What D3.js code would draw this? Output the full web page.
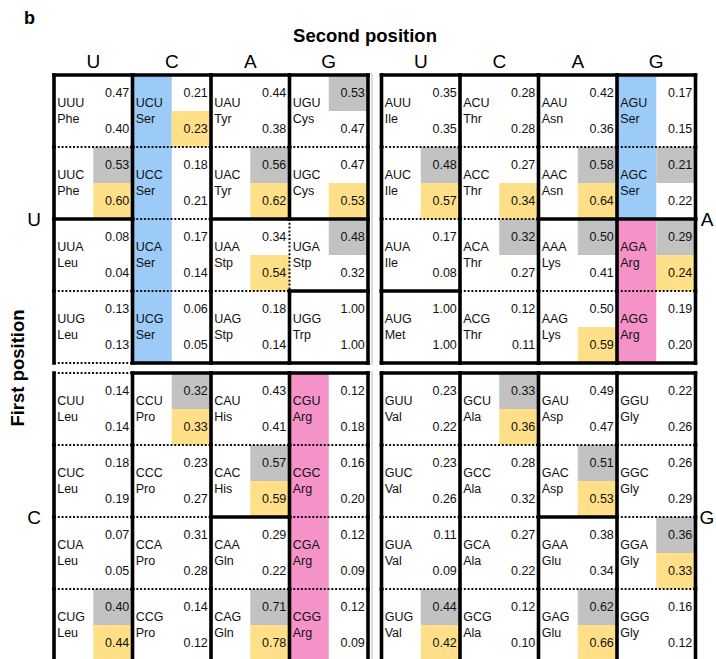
<!DOCTYPE html>
<html>
<head>
<meta charset="utf-8">
<script src="https://cdn.jsdelivr.net/npm/d3@7"></script>
<style>
  html, body { margin: 0; padding: 0; background: #fff; }
  svg { display: block; font-family: "Liberation Sans", Arial, Helvetica, sans-serif; }
</style>
</head>
<body>
<svg id="chart" width="716" height="659"></svg>
<script>
// Nucleotide order used for the first, second and third codon positions
const firstBases = ["U", "C", "A", "G"];
const secondBases = ["U", "C", "A", "G"];
const thirdBases = ["U", "C", "A", "G"];

// Amino acid per codon, ordered first base → second base → third base
const aminoAcids = [
  "Phe","Phe","Leu","Leu", "Ser","Ser","Ser","Ser", "Tyr","Tyr","Stp","Stp", "Cys","Cys","Stp","Trp",
  "Leu","Leu","Leu","Leu", "Pro","Pro","Pro","Pro", "His","His","Gln","Gln", "Arg","Arg","Arg","Arg",
  "Ile","Ile","Ile","Met", "Thr","Thr","Thr","Thr", "Asn","Asn","Lys","Lys", "Ser","Ser","Arg","Arg",
  "Val","Val","Val","Val", "Ala","Ala","Ala","Ala", "Asp","Asp","Glu","Glu", "Gly","Gly","Gly","Gly"
];

// Relative codon usage, upper value in each cell
const topValues = [
  0.47,0.53,0.08,0.13, 0.21,0.18,0.17,0.06, 0.44,0.56,0.34,0.18, 0.53,0.47,0.48,1.00,
  0.14,0.18,0.07,0.40, 0.32,0.23,0.31,0.14, 0.43,0.57,0.29,0.71, 0.12,0.16,0.12,0.12,
  0.35,0.48,0.17,1.00, 0.28,0.27,0.32,0.12, 0.42,0.58,0.50,0.50, 0.17,0.21,0.29,0.19,
  0.23,0.23,0.11,0.44, 0.33,0.28,0.27,0.12, 0.49,0.51,0.38,0.62, 0.22,0.26,0.36,0.16
];

// Relative codon usage, lower value in each cell
const bottomValues = [
  0.40,0.60,0.04,0.13, 0.23,0.21,0.14,0.05, 0.38,0.62,0.54,0.14, 0.47,0.53,0.32,1.00,
  0.14,0.19,0.05,0.44, 0.33,0.27,0.28,0.12, 0.41,0.59,0.22,0.78, 0.18,0.20,0.09,0.09,
  0.35,0.57,0.08,1.00, 0.28,0.34,0.27,0.11, 0.36,0.64,0.41,0.59, 0.15,0.22,0.24,0.20,
  0.22,0.26,0.09,0.42, 0.36,0.32,0.22,0.10, 0.47,0.53,0.34,0.66, 0.26,0.29,0.33,0.12
];

// Preferred codon of each amino acid, upper and lower value
const topPreferred = ["UUC","UAC","UGU","UGA","CUG","CCU","CAC","CAG","AUC","ACA","AAC","AAA","AGC","AGA","GUG","GCU","GAC","GAG","GGA"];
const bottomPreferred = ["UUC","UCU","UAC","UAA","UGC","CUG","CCU","CAC","CAG","AUC","ACC","AAC","AAG","AGA","GUG","GCU","GAC","GAG","GGA"];

// Six-codon amino acids split across two boxes
const shadedAminoAcids = ["Ser", "Arg"];
const shadeColors = ["#9ccbf7", "#f593c9"];

const svg = d3.select("#chart");

// Each first base owns one half-block
const blockX = d3.scaleOrdinal().domain(firstBases).range([54, 54, 381.5, 381.5]);
const blockY = d3.scaleOrdinal().domain(firstBases).range([75, 373, 75, 373]);
const colScale = d3.scaleBand().domain(secondBases).range([0, 314]);
const rowScale = d3.scaleBand().domain(thirdBases).range([0, 288]);
const shadeScale = d3.scaleOrdinal().domain(shadedAminoAcids).range(shadeColors);

const cells = [];
firstBases.forEach((f, fi) => secondBases.forEach((s, si) => thirdBases.forEach((t, ti) => {
  const i = fi * 16 + si * 4 + ti;
  const codon = f + s + t;
  const x0 = blockX(f) + colScale(s);
  const y0 = blockY(f) + rowScale(t);
  cells.push({
    f, s, t, fi, si, ti, codon,
    aa: aminoAcids[i], top: topValues[i], bottom: bottomValues[i],
    x0, y0, w: colScale.bandwidth(), h: rowScale.bandwidth()
  });
})));
const byCodon = new Map(cells.map(c => [c.codon, c]));

// Panel letter and axis titles
svg.append("text").attr("x", 24).attr("y", 24)
  .attr("font-size", 18).attr("font-weight", "bold").text("b");
svg.append("text").attr("x", 365).attr("y", 42).attr("text-anchor", "middle")
  .attr("font-size", 18.5).attr("font-weight", "bold").text("Second position");
svg.append("text")
  .attr("transform", "translate(24,368) rotate(-90)")
  .attr("text-anchor", "middle")
  .attr("font-size", 18.5).attr("font-weight", "bold").text("First position");

// Second-position letters above each block
["U", "A"].forEach(f => {
  secondBases.forEach(s => {
    svg.append("text")
      .attr("x", blockX(f) + colScale(s) + colScale.bandwidth() / 2)
      .attr("y", 68)
      .attr("text-anchor", "middle")
      .attr("font-size", 19).text(s);
  });
});

// First-position letters beside each half-block
firstBases.forEach(f => {
  const left = f === "U" || f === "C";
  svg.append("text")
    .attr("x", left ? 34 : 707)
    .attr("y", blockY(f) + 144 + 7)
    .attr("text-anchor", "middle")
    .attr("font-size", 19).text(f);
});

// Faint rule between the two blocks
["U", "C"].forEach(f => {
  svg.append("line")
    .attr("x1", 372).attr("x2", 372)
    .attr("y1", blockY(f) - 2).attr("y2", blockY(f) + 290)
    .attr("stroke", "#cfcfcf").attr("stroke-width", 1.5);
});

const fills = svg.append("g");
// Amino-acid shading on the left half of the cell
fills.selectAll("rect.shade")
  .data(cells.filter(c => shadedAminoAcids.includes(c.aa)))
  .join("rect")
  .attr("x", c => c.x0).attr("y", c => c.y0)
  .attr("width", c => c.w / 2).attr("height", c => c.h)
  .attr("fill", c => shadeScale(c.aa));
// Preferred-codon boxes on the right half
fills.selectAll("rect.top")
  .data(cells.filter(c => topPreferred.includes(c.codon)))
  .join("rect")
  .attr("x", c => c.x0 + c.w / 2).attr("y", c => c.y0)
  .attr("width", c => c.w / 2).attr("height", c => c.h / 2)
  .attr("fill", "#c2c2c2");
fills.selectAll("rect.bottom")
  .data(cells.filter(c => bottomPreferred.includes(c.codon)))
  .join("rect")
  .attr("x", c => c.x0 + c.w / 2).attr("y", c => c.y0 + c.h / 2)
  .attr("width", c => c.w / 2).attr("height", c => c.h / 2)
  .attr("fill", "#ffe088");

// Cell text
const fmt = d3.format(".2f");
const texts = svg.append("g").attr("font-size", 12.5).attr("fill", "#111");
const cg = texts.selectAll("g").data(cells).join("g");
cg.append("text").attr("x", c => c.x0 + 3.2).attr("y", c => c.y0 + 31.7).text(c => c.codon);
cg.append("text").attr("x", c => c.x0 + 3.2).attr("y", c => c.y0 + 48.3).text(c => c.aa);
cg.append("text").attr("x", c => c.x0 + c.w - 3.2).attr("y", c => c.y0 + 22.3)
  .attr("text-anchor", "end").text(c => fmt(c.top));
cg.append("text").attr("x", c => c.x0 + c.w - 3.2).attr("y", c => c.y0 + 58.3)
  .attr("text-anchor", "end").text(c => fmt(c.bottom));

// Borders: solid between different amino acids, dotted between synonymous codons
function neighbor(c, side) {
  const n = 4;
  if (side === "top") {
    if (c.ti > 0) return byCodon.get(c.f + c.s + thirdBases[c.ti - 1]);
    if (c.f === "C") return byCodon.get("U" + c.s + "G");
    if (c.f === "G") return byCodon.get("A" + c.s + "G");
    return null;
  }
  if (side === "bottom") {
    if (c.ti < n - 1) return byCodon.get(c.f + c.s + thirdBases[c.ti + 1]);
    if (c.f === "U") return byCodon.get("C" + c.s + "U");
    if (c.f === "A") return byCodon.get("G" + c.s + "U");
    return null;
  }
  if (side === "left") return c.si > 0 ? byCodon.get(c.f + secondBases[c.si - 1] + c.t) : null;
  if (side === "right") return c.si < n - 1 ? byCodon.get(c.f + secondBases[c.si + 1] + c.t) : null;
}

const edges = [];
cells.forEach(c => {
  const x1 = c.x0 + c.w, y1 = c.y0 + c.h;
  const sides = [
    ["top", c.x0, c.y0, x1, c.y0],
    ["left", c.x0, c.y0, c.x0, y1]
  ];
  if (c.ti === 3) sides.push(["bottom", c.x0, y1, x1, y1]);
  if (c.si === 3) sides.push(["right", x1, c.y0, x1, y1]);
  sides.forEach(([side, ax, ay, bx, by]) => {
    const nb = neighbor(c, side);
    edges.push({ ax, ay, bx, by, dotted: !!nb && nb.aa === c.aa });
  });
});

const lines = svg.append("g");
lines.selectAll("line.dot")
  .data(edges.filter(e => e.dotted))
  .join("line")
  .attr("x1", e => e.ax).attr("y1", e => e.ay)
  .attr("x2", e => e.bx).attr("y2", e => e.by)
  .attr("stroke", "#111").attr("stroke-width", 2)
  .attr("stroke-dasharray", "2 1.8");
lines.selectAll("line.solid")
  .data(edges.filter(e => !e.dotted))
  .join("line")
  .attr("x1", e => e.ax).attr("y1", e => e.ay)
  .attr("x2", e => e.bx).attr("y2", e => e.by)
  .attr("stroke", "#000").attr("stroke-width", 3.6)
  .attr("stroke-linecap", "square");
</script>
</body>
</html>
